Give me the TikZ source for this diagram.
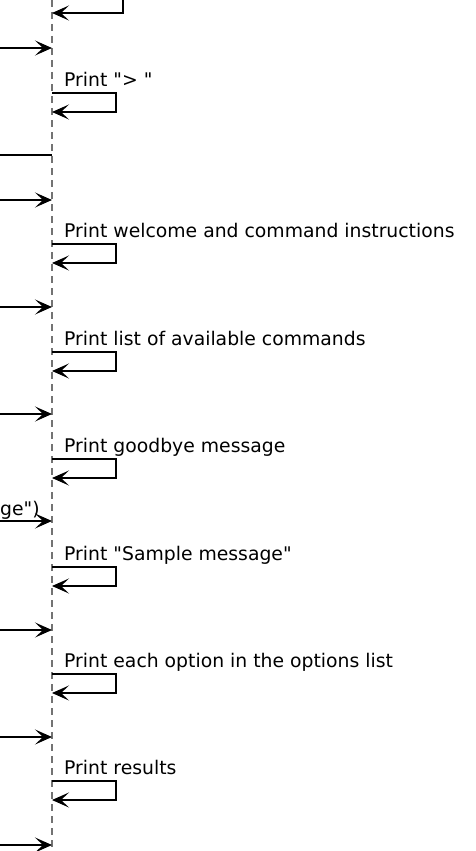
\documentclass[tikz,border=0pt]{standalone}
\usepackage{fontspec}
\setmainfont{DejaVu Sans}[Ligatures=TeXOff]
\usetikzlibrary{arrows.meta}
\begin{document}
\begin{tikzpicture}[x=1pt,y=-1pt,
  msg/.style={line width=1.5pt,-{Stealth[length=17pt,width=15pt,inset=8pt]}},
  plain/.style={line width=1.5pt},
  life/.style={draw=black!55,line width=1.2pt,dash pattern=on 7pt off 5pt},
  lbl/.style={anchor=base west,inner sep=0pt,font=\fontsize{18.8}{21}\selectfont}]
\useasboundingbox (0,0) rectangle (475,851);
% lifeline
\coordinate (ltop) at (52,0);
\coordinate (lbot) at (52,851);
\draw[life] (ltop) -- (lbot);
% top partial self loop
\coordinate (t0) at (123,0);
\coordinate (t1) at (123,13);
\coordinate (t2) at (52,13);
\draw[msg] (t0) -- (t1) -- (t2);
% end line
\coordinate (e0) at (0,155);
\coordinate (e1) at (52,155);
\draw[plain] (e0) -- (e1);
% incoming messages
\foreach \y in {48,200,307,414,521,630,737,845}{
  \coordinate (in\y) at (0,\y);
  \coordinate (on\y) at (52,\y);
  \draw[msg] (in\y) -- (on\y);
}
\node[lbl] (cut) at (0,515) {ge")};
% self loops
\foreach \t/\txt [count=\i] in {93/{Print "> "},244/{Print welcome and command instructions},352/{Print list of available commands},459/{Print goodbye message},567/{Print "Sample message"},674/{Print each option in the options list},781/{Print results}}{
  \node[lbl] (lab\i) at (64,\t-7) {\txt};
  \coordinate (s\i a) at (52,\t);
  \coordinate (s\i b) at (116,\t);
  \coordinate (s\i c) at (116,\t+19);
  \coordinate (s\i d) at (52,\t+19);
  \draw[msg] (s\i a) -- (s\i b) -- (s\i c) -- (s\i d);
}
\end{tikzpicture}
\end{document}
